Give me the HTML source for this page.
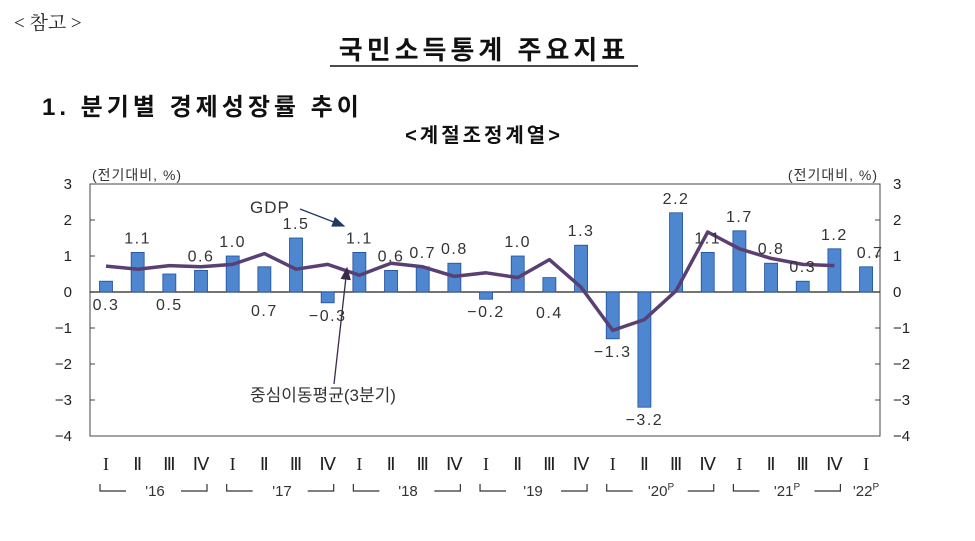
<!DOCTYPE html>
<html><head><meta charset="utf-8"><style>
body{margin:0;background:#fff;width:975px;height:536px;overflow:hidden;font-family:"Liberation Sans","Noto Sans CJK KR",sans-serif}
</style></head><body>
<svg width="975" height="536" xmlns="http://www.w3.org/2000/svg" font-family="Liberation Sans, Noto Sans CJK KR, sans-serif">
<defs><marker id="ah" markerWidth="10" markerHeight="8" refX="9" refY="4" orient="auto"><path d="M0,0 L10,4 L0,8 z" fill="#1f3864"/></marker>
<marker id="ah2" markerWidth="10" markerHeight="8" refX="9" refY="4" orient="auto"><path d="M0,0 L10,4 L0,8 z" fill="#3a2a4a"/></marker></defs>
<text x="14" y="29" font-size="19" fill="#222" font-family="Liberation Serif, Noto Serif CJK SC, serif">&lt; 참고 &gt;</text>
<text x="484" y="59" font-size="26" font-weight="bold" text-anchor="middle" fill="#111" letter-spacing="4">국민소득통계  주요지표</text>
<line x1="330" y1="66" x2="638" y2="66" stroke="#111" stroke-width="1.5"/>
<text x="42" y="115" font-size="24" font-weight="bold" fill="#111" letter-spacing="4">1. 분기별 경제성장률 추이</text>
<text x="484" y="142" font-size="20" font-weight="bold" text-anchor="middle" fill="#111" letter-spacing="3">&lt;계절조정계열&gt;</text>
<text x="92" y="180" font-size="14" fill="#333" letter-spacing="1">(전기대비, %)</text>
<text x="878" y="180" font-size="14" fill="#333" text-anchor="end" letter-spacing="1">(전기대비, %)</text>
<rect x="90" y="184" width="790" height="252" fill="none" stroke="#444" stroke-width="1"/>
<line x1="90" y1="292" x2="880" y2="292" stroke="#222" stroke-width="1.2"/>
<g font-size="15" fill="#222" text-anchor="end">
<text x="72" y="189">3</text><text x="72" y="225">2</text><text x="72" y="261">1</text><text x="72" y="297">0</text><text x="72" y="333">−1</text><text x="72" y="369">−2</text><text x="72" y="405">−3</text><text x="72" y="441">−4</text>
</g>
<g font-size="15" fill="#222">
<text x="893" y="189">3</text><text x="893" y="225">2</text><text x="893" y="261">1</text><text x="893" y="297">0</text><text x="893" y="333">−1</text><text x="893" y="369">−2</text><text x="893" y="405">−3</text><text x="893" y="441">−4</text>
</g>
<g stroke="#444"><line x1="90" y1="220" x2="95" y2="220"/><line x1="90" y1="256" x2="95" y2="256"/><line x1="90" y1="328" x2="95" y2="328"/><line x1="90" y1="364" x2="95" y2="364"/><line x1="90" y1="400" x2="95" y2="400"/>
<line x1="875" y1="220" x2="880" y2="220"/><line x1="875" y1="256" x2="880" y2="256"/><line x1="875" y1="328" x2="880" y2="328"/><line x1="875" y1="364" x2="880" y2="364"/><line x1="875" y1="400" x2="880" y2="400"/></g>
<g id="bars" fill="#4f86d0" stroke="#1f4f9a" stroke-width="0.8"></g>
<polyline id="ma" fill="none" stroke="#5a3f73" stroke-width="3.5" stroke-linejoin="round"/>
<g id="labels" font-size="16" fill="#333" text-anchor="middle" letter-spacing="1.5"></g>
<text x="250" y="213" font-size="17" fill="#333" letter-spacing="1">GDP</text>
<line x1="300" y1="209" x2="344" y2="226" stroke="#1f3864" stroke-width="1.3" marker-end="url(#ah)"/>
<text x="250" y="401" font-size="17" fill="#333">중심이동평균(3분기)</text>
<line x1="334" y1="384" x2="347" y2="268" stroke="#3a2a4a" stroke-width="1.3" marker-end="url(#ah2)"/>
<g id="q" font-size="18" fill="#222" text-anchor="middle" font-family="Liberation Serif, serif"></g>
<g font-size="15" fill="#333" text-anchor="middle">
<text x="155" y="496">'16</text><text x="282" y="496">'17</text><text x="408" y="496">'18</text><text x="533" y="496">'19</text><text x="661" y="496">'20<tspan font-size="10" dy="-6">P</tspan></text><text x="787" y="496">'21<tspan font-size="10" dy="-6">P</tspan></text><text x="866" y="496">'22<tspan font-size="10" dy="-6">P</tspan></text>
</g>
<g id="br" fill="none" stroke="#333" stroke-width="1.2"></g>
</svg>
<script>
var v=[0.3,1.1,0.5,0.6,1.0,0.7,1.5,-0.3,1.1,0.6,0.7,0.8,-0.2,1.0,0.4,1.3,-1.3,-3.2,2.2,1.1,1.7,0.8,0.3,1.2,0.7];
var ns="http://www.w3.org/2000/svg";function X(i){return 106+i*31.67}function Y(x){return 292-36*x}
var b=document.getElementById('bars'),l=document.getElementById('labels'),q=document.getElementById('q'),br=document.getElementById('br');
var below={0:1,2:1,5:1,14:1};
var R=['I','Ⅱ','Ⅲ','Ⅳ'];
v.forEach(function(x,i){var r=document.createElementNS(ns,'rect');r.setAttribute('x',X(i)-6.5);r.setAttribute('width',13);r.setAttribute('y',Math.min(Y(x),292));r.setAttribute('height',Math.abs(36*x));b.appendChild(r);
var t=document.createElementNS(ns,'text');var y;
if(x<0)y=Y(x)+18;else if(below[i])y=310+(i==5?6:0)+(i==14?8:0);else y=Y(x)-9;
t.setAttribute('x',X(i)+(i==24?4:0));t.setAttribute('y',y);t.textContent=(x<0?'−':'')+Math.abs(x).toFixed(1);l.appendChild(t);
var s=document.createElementNS(ns,'text');s.setAttribute('x',X(i));s.setAttribute('y',470);s.textContent=R[i%4];q.appendChild(s);});
var pts=[X(0)+','+Y(0.72)];for(var i=1;i<24;i++){var a=(v[i-1]+v[i]+v[i+1])/3;pts.push(X(i)+','+Y(a));}
document.getElementById('ma').setAttribute('points',pts.join(' '));
for(var k=0;k<6;k++){var x0=X(4*k)-6,x1=X(4*k+3)+6;var p=document.createElementNS(ns,'path');p.setAttribute('d','M'+x0+',484 L'+x0+',491 L'+(x0+26)+',491 M'+(x1-26)+',491 L'+x1+',491 L'+x1+',484');br.appendChild(p);}
</script>
</body></html>
